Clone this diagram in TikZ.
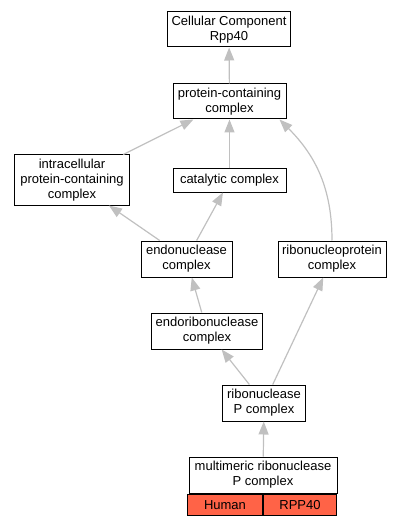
\documentclass[tikz,border=0pt]{standalone}
\usepackage{fontspec}
\setmainfont{Liberation Sans}
\usetikzlibrary{arrows.meta}
\definecolor{edgegray}{HTML}{C0C0C0}
\definecolor{tomato}{HTML}{FF6347}
\tikzset{
    termbox/.style = {
        draw, rectangle, fill=white, line width=1bp, align=center, inner sep=1bp,
        font=\fontsize{13bp}{15bp}\selectfont
    },
    cellbox/.style = {
        termbox, fill=tomato, minimum height=21.5bp
    },
    isa/.style = {
        color=edgegray, line width=1.2bp, -{Triangle[width=10bp,length=13bp]}
    },
}

\begin{document}
\begin{tikzpicture}[x=1bp, y=-1bp]
    \useasboundingbox (0,0) rectangle (401,525);
    % Place the terms
    \node[termbox, minimum width=123bp, minimum height=35bp] (cc) at (229,29.5) {Cellular Component\\Rpp40};
    \node[termbox, minimum width=113bp, minimum height=35bp] (pcc) at (229.5,101.5) {protein-containing\\complex};
    \node[termbox, minimum width=114bp, minimum height=50bp] (ipc) at (72,180) {intracellular\\protein-containing\\complex};
    \node[termbox, minimum width=113bp, minimum height=23bp] (cat) at (229.5,180.5) {catalytic complex};
    \node[termbox, minimum width=91bp, minimum height=36bp] (endo) at (186.5,259) {endonuclease\\complex};
    \node[termbox, minimum width=108bp, minimum height=36bp] (rnp) at (332,259) {ribonucleoprotein\\complex};
    \node[termbox, minimum width=111bp, minimum height=36bp] (endori) at (207,331) {endoribonuclease\\complex};
    \node[termbox, minimum width=83bp, minimum height=36bp] (rnasep) at (264,403) {ribonuclease\\P complex};
    \node[termbox, minimum width=148bp, minimum height=36bp] (mrp) at (263,475) {multimeric ribonuclease\\P complex};
    \node[cellbox, minimum width=75bp, anchor=north east] (human) at (mrp.south) {Human};
    \node[cellbox, minimum width=73bp, anchor=north west] (rpp) at (mrp.south) {RPP40};

    % Draw connections
    \draw[isa] (pcc) -- (cc);
    \draw[isa] (ipc) -- (pcc);
    \draw[isa] (cat) -- (pcc);
    \draw[isa] (rnp.north) to[out=90, in=-45] ([xshift=-7bp] pcc.south east);
    \draw[isa] (endo) -- (ipc);
    \draw[isa] (endo) -- (cat);
    \draw[isa] (endori) -- (endo);
    \draw[isa] (rnasep) -- (endori);
    \draw[isa] (rnasep) -- (rnp);
    \draw[isa] (mrp) -- (rnasep);
\end{tikzpicture}
\end{document}
